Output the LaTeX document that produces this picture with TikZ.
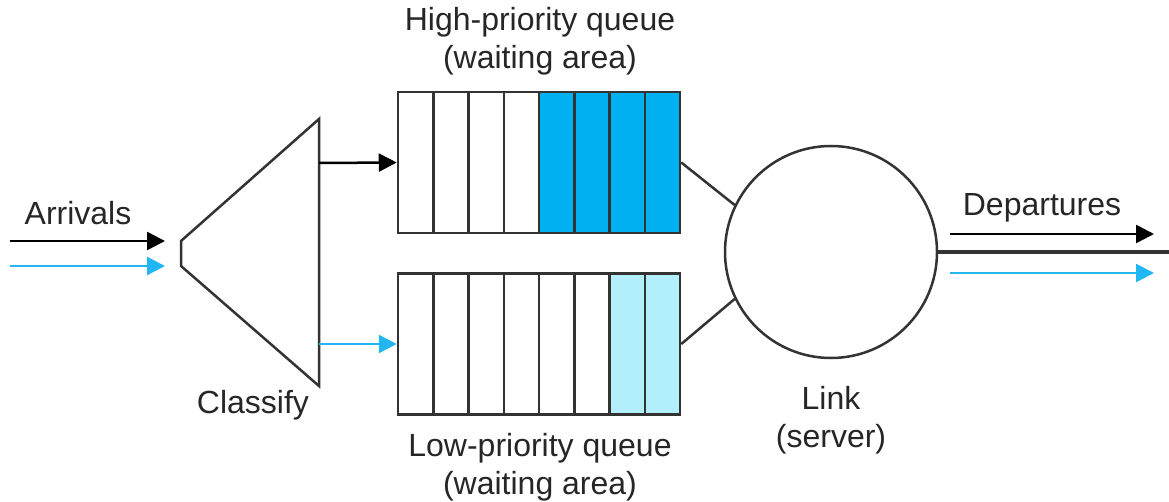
\documentclass[tikz,border=0pt]{standalone}
\usepackage{fontspec}
\setmainfont{Liberation Sans}
\usetikzlibrary{arrows.meta,positioning}
\definecolor{hiblue}{HTML}{00B0F0}
\definecolor{loblue}{HTML}{B3EFFB}
\definecolor{flowblue}{HTML}{22B6F2}

\begin{document}
\begin{tikzpicture}[x=1pt, y=-1pt,
  outline/.style={draw=black!80, line width=2.5pt},
  flow/.style={line width=2.5pt, -{Triangle[length=18pt,width=18pt]}},
  lbl/.style={font=\fontsize{32}{38}\selectfont, text=black!85, align=center},
  cellbox/.style={outline, minimum width=35.25pt, minimum height=141pt, inner sep=0pt}
]
  \useasboundingbox (0,0) rectangle (1169,502);

  % Classifier
  \draw[outline] (181,241) -- (319,119) -- (319,386) -- (181,266) -- cycle;
  \coordinate (clsHi) at (319,163);
  \coordinate (clsLo) at (319,344);
  \node[lbl] (classify) at (253,405) {Classify};

  % Arrivals
  \coordinate (arrBlk) at (10,241);
  \coordinate (arrBlkEnd) at (165,241);
  \coordinate (arrBlu) at (10,266);
  \coordinate (arrBluEnd) at (165,266);
  \draw[flow, black] (arrBlk) -- (arrBlkEnd);
  \draw[flow, flowblue] (arrBlu) -- (arrBluEnd);
  \node[lbl] (arrivals) at (78,213) {Arrivals};

  % High-priority queue
  \foreach \i/\c in {0/white,1/white,2/white,3/white,4/hiblue,5/hiblue,6/hiblue,7/hiblue} {
    \node[cellbox, fill=\c] (hc\i) at (415.625+35.25*\i,162.5) {};
  }
  \node[lbl] (hilabel) at (540,41) {High-priority queue\\(waiting area)};

  % Low-priority queue
  \foreach \i/\c in {0/white,1/white,2/white,3/white,4/white,5/white,6/loblue,7/loblue} {
    \node[cellbox, fill=\c] (lc\i) at (415.625+35.25*\i,344) {};
  }
  \node[lbl] (lolabel) at (540,467) {Low-priority queue\\(waiting area)};

  \draw[flow, black] (clsHi) -- (hc0.west);
  \draw[flow, flowblue] (clsLo) -- (lc0.west);

  % Link
  \node[outline, circle, minimum size=212pt, inner sep=0pt] (link) at (831,252) {};
  \node[lbl] (linklabel) at (831,420) {Link\\(server)};
  \draw[outline] (hc7.east) -- (link.154);
  \draw[outline] (lc7.east) -- (link.206);

  % Departures
  \coordinate (outEnd) at (1169,252);
  \draw[draw=black!80, line width=4pt] (link.east) -- (outEnd);
  \coordinate (depBlk) at (950,234);
  \coordinate (depBlkEnd) at (1154,234);
  \coordinate (depBlu) at (950,273);
  \coordinate (depBluEnd) at (1154,273);
  \draw[flow, black] (depBlk) -- (depBlkEnd);
  \draw[flow, flowblue] (depBlu) -- (depBluEnd);
  \node[lbl] (departures) at (1042,208) {Departures};

\end{tikzpicture}
\end{document}
